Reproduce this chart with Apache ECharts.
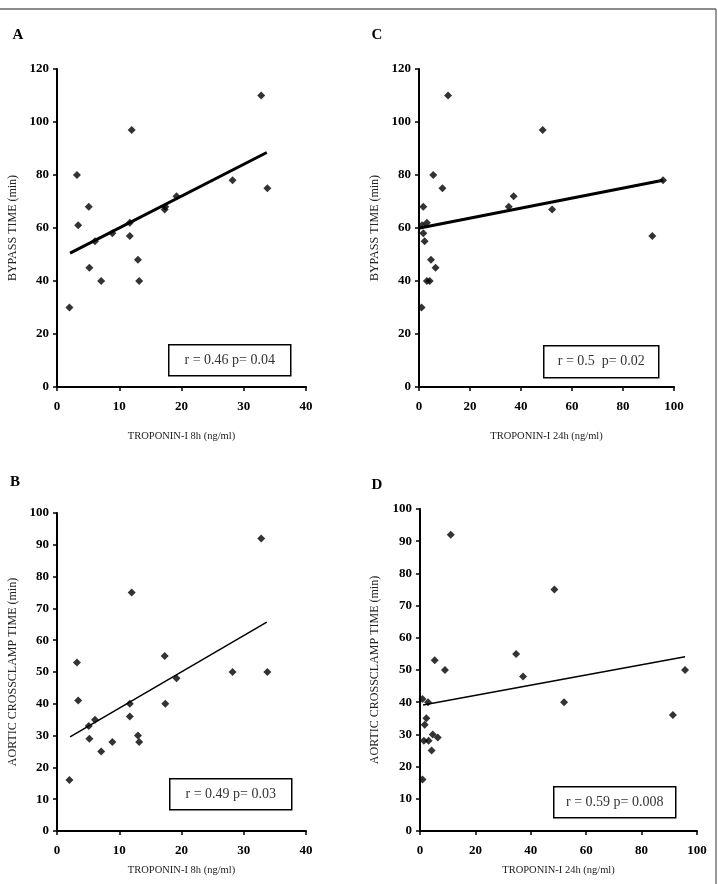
<!DOCTYPE html>
<html>
<head>
<meta charset="utf-8">
<script src="https://cdn.jsdelivr.net/npm/echarts@6/dist/echarts.min.js"></script>
<style>
  html, body { margin: 0; padding: 0; background: #fff; }
  #main { width: 718px; height: 884px; }
</style>
</head>
<body>
<div id="main"></div>
<script>
  // troponin values (ng/ml)
  var trop8h = [2.0, 3.2, 3.4, 5.1, 5.2, 6.1, 7.1, 8.9, 11.7, 11.7, 12.0, 13.0, 13.2, 17.3, 17.4, 19.2, 28.2, 32.8, 33.8]
  var bypass8h = [30, 80, 61, 68, 45, 55, 40, 58, 62, 57, 97, 48, 40, 67, 68, 72, 78, 110, 75]
  var clamp8h = [16, 53, 41, 33, 29, 35, 25, 28, 40, 36, 75, 30, 28, 55, 40, 48, 50, 92, 50]

  var trop24hC = [1.0, 1.2, 1.7, 1.7, 2.2, 3.1, 3.1, 4.2, 4.7, 5.6, 6.5, 9.2, 11.4, 35.2, 37.1, 48.5, 52.2, 91.5, 95.7]
  var bypass24h = [30, 61, 58, 68, 55, 62, 40, 40, 48, 80, 45, 75, 110, 68, 72, 97, 67, 57, 78]

  var trop24hD = [0.9, 0.9, 1.7, 1.4, 2.3, 2.9, 3.1, 4.2, 4.6, 5.3, 6.4, 9.0, 11.1, 34.7, 37.2, 48.5, 52.0, 91.3, 95.7]
  var clamp24h = [16, 41, 33, 28, 35, 40, 28, 25, 30, 53, 29, 50, 92, 55, 48, 75, 40, 36, 50]

  // regression line end points
  var fitA = [[2.1, 50.5], [33.7, 88.5]]
  var fitB = [[2.1, 29.6], [33.7, 65.7]]
  var fitC = [[0.3, 60], [95.7, 78]]
  var fitD = [[1.1, 39.1], [95.7, 54.1]]

  var statA = 'r = 0.46 p= 0.04'
  var statB = 'r = 0.49 p= 0.03'
  var statC = 'r = 0.5  p= 0.02'
  var statD = 'r = 0.59 p= 0.008'

  function pairs (xs, ys) {
    return xs.map(function (x, i) { return [x, ys[i]] })
  }

  var serif = '"Liberation Serif", "DejaVu Serif", serif'

  function xAx (idx, max, interval, name, gap) {
    return {
      gridIndex: idx, type: 'value', min: 0, max: max, interval: interval,
      name: name, nameLocation: 'middle', nameGap: gap,
      nameTextStyle: { fontFamily: serif, fontSize: 10.5, color: '#222' },
      axisLine: { lineStyle: { color: '#000', width: 2 } },
      axisTick: { show: true, length: 4, lineStyle: { color: '#000', width: 1.5 } },
      axisLabel: { fontFamily: serif, fontWeight: 'bold', fontSize: 13, color: '#000', margin: 13 },
      splitLine: { show: false }
    }
  }
  function yAx (idx, max, interval, name, gap) {
    return {
      gridIndex: idx, type: 'value', min: 0, max: max, interval: interval,
      name: name, nameLocation: 'middle', nameGap: gap,
      nameTextStyle: { fontFamily: serif, fontSize: 12, color: '#222' },
      axisLine: { show: true, lineStyle: { color: '#000', width: 2 } },
      axisTick: { show: true, length: 4, lineStyle: { color: '#000', width: 1.5 } },
      axisLabel: { fontFamily: serif, fontWeight: 'bold', fontSize: 13, color: '#000', margin: 8 },
      splitLine: { show: false }
    }
  }
  function dots (idx, data) {
    return {
      type: 'scatter', xAxisIndex: idx, yAxisIndex: idx, data: data,
      symbol: 'diamond', symbolSize: 8, itemStyle: { color: '#000' }, silent: true
    }
  }
  function fit (idx, data, w) {
    return {
      type: 'line', xAxisIndex: idx, yAxisIndex: idx, data: data, symbol: 'none',
      lineStyle: { color: '#000', width: w }, silent: true
    }
  }
  function statBox (x, y, w, h, txt) {
    return {
      type: 'group', left: x, top: y,
      children: [
        { type: 'rect', shape: { x: 0, y: 0, width: w, height: h },
          style: { fill: '#fff', stroke: '#000', lineWidth: 1.5 } },
        { type: 'text', x: w / 2, y: h / 2,
          style: { text: txt, fontFamily: serif, fontSize: 14, fill: '#333', align: 'center', verticalAlign: 'middle' } }
      ]
    }
  }
  function letter (x, y, t) {
    return { type: 'text', x: x, y: y,
      style: { text: t, fontFamily: serif, fontWeight: 'bold', fontSize: 15, fill: '#000', align: 'center', verticalAlign: 'middle' } }
  }

  var chart = echarts.init(document.getElementById('main'), null, { renderer: 'canvas' })
  chart.setOption({
    animation: false,
    grid: [
      { left: 57, top: 69, width: 249, height: 318 },
      { left: 57, top: 513, width: 249, height: 318 },
      { left: 419, top: 69, width: 255, height: 318 },
      { left: 420, top: 509, width: 277, height: 322 }
    ],
    xAxis: [
      xAx(0, 40, 10, 'TROPONIN-I 8h (ng/ml)', 44),
      xAx(1, 40, 10, 'TROPONIN-I 8h (ng/ml)', 34),
      xAx(2, 100, 20, 'TROPONIN-I 24h (ng/ml)', 44),
      xAx(3, 100, 20, 'TROPONIN-I 24h (ng/ml)', 34)
    ],
    yAxis: [
      yAx(0, 120, 20, 'BYPASS TIME (min)', 38),
      yAx(1, 100, 10, 'AORTIC CROSSCLAMP TIME (min)', 38),
      yAx(2, 120, 20, 'BYPASS TIME (min)', 38),
      yAx(3, 100, 10, 'AORTIC CROSSCLAMP TIME (min)', 39)
    ],
    series: [
      dots(0, pairs(trop8h, bypass8h)), fit(0, fitA, 3),
      dots(1, pairs(trop8h, clamp8h)), fit(1, fitB, 1.5),
      dots(2, pairs(trop24hC, bypass24h)), fit(2, fitC, 3),
      dots(3, pairs(trop24hD, clamp24h)), fit(3, fitD, 1.5)
    ],
    graphic: [
      { type: 'line', shape: { x1: 0, y1: 9, x2: 716, y2: 9 }, style: { stroke: '#666', lineWidth: 1.5 } },
      { type: 'line', shape: { x1: 716, y1: 9, x2: 716, y2: 884 }, style: { stroke: '#777', lineWidth: 1.5 } },
      letter(18, 35, 'A'),
      letter(377, 35, 'C'),
      letter(15, 482, 'B'),
      letter(377, 485, 'D'),
      statBox(168, 344, 122, 31, statA),
      statBox(543, 345, 115, 32, statC),
      statBox(169, 778, 122, 31, statB),
      statBox(553, 786, 122, 31, statD)
    ]
  })
</script>
</body>
</html>
